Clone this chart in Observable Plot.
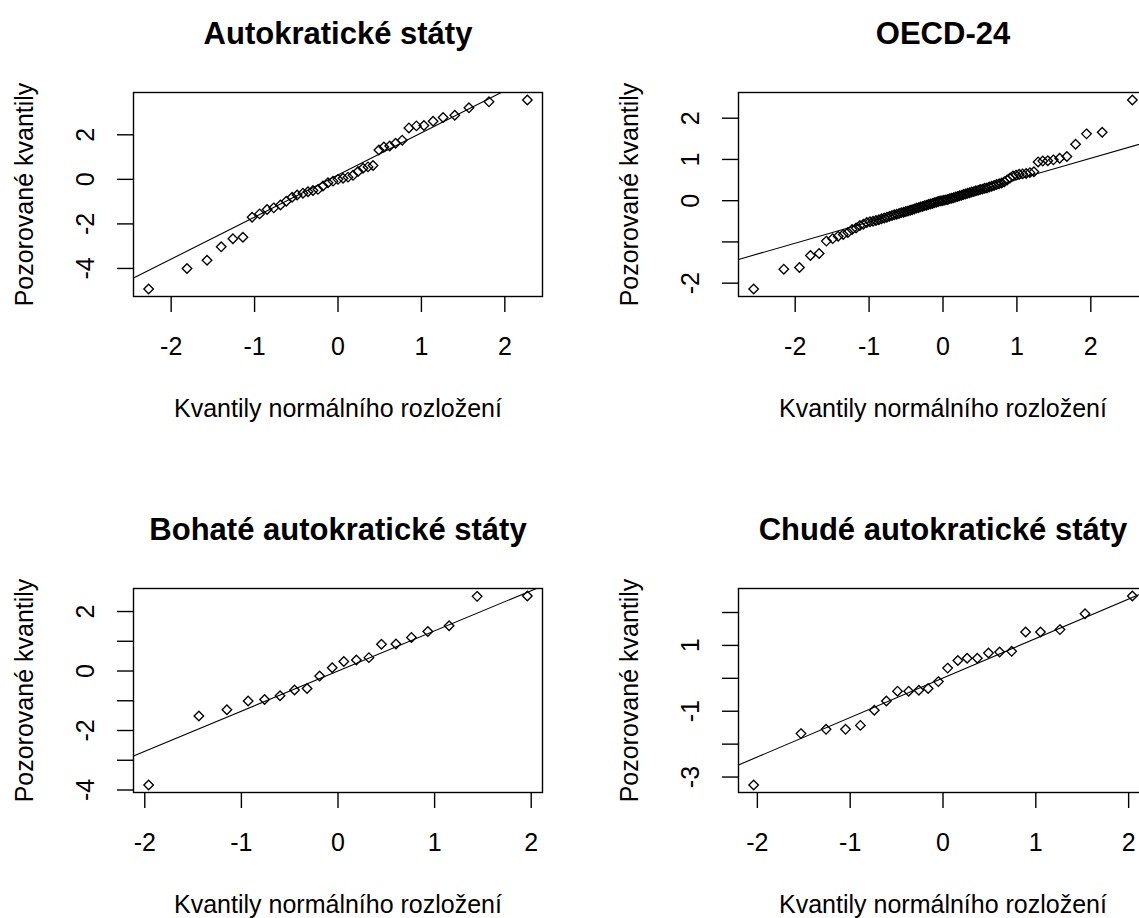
<!DOCTYPE html>
<html><head><meta charset="utf-8">
<script src="https://cdn.jsdelivr.net/npm/d3@7"></script>
<script src="https://cdn.jsdelivr.net/npm/@observablehq/plot@0.6"></script>
<style>
html,body{margin:0;padding:0;background:#fff;overflow:hidden;}
#wrap{position:relative;width:1139px;height:918px;overflow:hidden;background:#fff;}
.panel{position:absolute;width:605px;height:496px;}
</style></head><body><div id="wrap"></div>
<script>
// ---- data ----
const titles = ["Autokratické státy", "OECD-24", "Bohaté autokratické státy", "Chudé autokratické státy"];
const xLabel = "Kvantily normálního rozložení";
const yLabel = "Pozorované kvantily";
const xTicks = [-2, -1, 0, 1, 2];

const autoX = [-2.27,-1.81,-1.57,-1.40,-1.26,-1.14,-1.03,-0.94,-0.85,-0.77,-0.69,-0.62,-0.55,-0.49,-0.42,-0.36,-0.30,-0.24,-0.18,-0.12,-0.06,0,
  0.06,0.12,0.18,0.24,0.30,0.36,0.42,0.49,0.55,0.62,0.69,0.77,0.85,0.94,1.03,1.14,1.26,1.40,1.57,1.81,2.27];
const autoY = [-4.92,-4.00,-3.63,-3.03,-2.67,-2.60,-1.70,-1.55,-1.35,-1.28,-1.15,-0.98,-0.80,-0.70,-0.62,-0.56,-0.50,-0.45,-0.30,-0.15,-0.08,0.00,
  0.05,0.10,0.18,0.35,0.50,0.56,0.62,1.32,1.45,1.50,1.62,1.76,2.31,2.40,2.42,2.61,2.78,2.88,3.21,3.48,3.56];
const autoTicks = [-4, -2, 0, 2];
const autoLabels = [-4, -2, 0, 2];

const oecdX = [-2.562,-2.154,-1.942,-1.794,-1.676,-1.578,-1.493,-1.418,-1.350,-1.287,-1.230,-1.176,-1.125,-1.077,-1.031,-0.988,
  -0.947,-0.907,-0.868,-0.831,-0.794,-0.759,-0.725,-0.691,-0.658,-0.626,-0.594,-0.563,-0.533,-0.503,-0.474,-0.445,
  -0.417,-0.388,-0.360,-0.332,-0.305,-0.277,-0.250,-0.223,-0.197,-0.171,-0.144,-0.118,-0.092,-0.065,-0.039,-0.013,
  0.013,0.039,0.065,0.092,0.118,0.144,0.171,0.197,0.223,0.250,0.277,0.305,0.332,0.360,0.388,0.417,
  0.445,0.474,0.503,0.533,0.563,0.594,0.626,0.658,0.691,0.725,0.759,0.794,0.831,0.868,0.907,0.947,
  0.988,1.031,1.077,1.125,1.176,1.230,1.287,1.350,1.418,1.493,1.578,1.676,1.794,1.942,2.154,2.562];
const oecdY = [-2.14,-1.66,-1.62,-1.33,-1.28,-0.98,-0.92,-0.86,-0.82,-0.77,-0.70,-0.66,-0.60,-0.57,-0.53,-0.51,
  -0.50,-0.48,-0.46,-0.44,-0.42,-0.40,-0.38,-0.36,-0.34,-0.33,-0.31,-0.29,-0.28,-0.26,-0.25,-0.23,
  -0.22,-0.20,-0.18,-0.17,-0.15,-0.14,-0.12,-0.11,-0.09,-0.08,-0.07,-0.05,-0.04,-0.02,-0.01,0.00,
  0.01,0.02,0.03,0.05,0.06,0.07,0.09,0.10,0.12,0.13,0.15,0.16,0.18,0.19,0.21,0.22,
  0.24,0.25,0.27,0.28,0.30,0.31,0.33,0.35,0.37,0.39,0.41,0.43,0.46,0.50,0.55,0.60,
  0.62,0.64,0.65,0.66,0.68,0.70,0.94,0.96,0.97,0.99,1.03,1.07,1.37,1.62,1.66,2.44];
const oecdTicks = [-2, -1, 0, 1, 2];
const oecdLabels = [-2, 0, 1, 2];

const richX = [-1.96,-1.44,-1.15,-0.93,-0.76,-0.60,-0.45,-0.32,-0.19,-0.06,0.06,0.19,0.32,0.45,0.60,0.76,0.93,1.15,1.44,1.96];
const richY = [-3.83,-1.51,-1.30,-1.01,-0.96,-0.83,-0.64,-0.59,-0.17,0.11,0.32,0.37,0.45,0.90,0.91,1.13,1.33,1.52,2.51,2.52];
const richTicks = [-4, -3, -2, -1, 0, 1, 2];
const richLabels = [-4, -2, 0, 2];

const poorX = [-2.04,-1.53,-1.26,-1.05,-0.89,-0.74,-0.61,-0.49,-0.37,-0.26,-0.16,-0.05,0.05,0.16,0.26,0.37,0.49,0.61,0.74,0.89,1.05,1.26,1.53,2.04];
const poorY = [-3.24,-1.68,-1.55,-1.55,-1.43,-0.97,-0.69,-0.39,-0.39,-0.36,-0.31,-0.10,0.31,0.54,0.61,0.61,0.77,0.80,0.82,1.41,1.41,1.48,1.96,2.50];
const poorTicks = [-3, -2, -1, 0, 1, 2];
const poorLabels = [-3, -1, 1];

// qqline intercept / slope
const lineIntercepts = [0.20, 0.00, 0.00, 0.01];
const lineSlopes = [1.89, 0.515, 1.35, 1.20];

// ---- drawing ----
const FONT = "'Liberation Sans', Arial, sans-serif";
const panels = [
  {title: titles[0], x: autoX, y: autoY, ticks: autoTicks, labels: autoLabels, a: lineIntercepts[0], b: lineSlopes[0], left: 0, top: 0},
  {title: titles[1], x: oecdX, y: oecdY, ticks: oecdTicks, labels: oecdLabels, a: lineIntercepts[1], b: lineSlopes[1], left: 605, top: 0},
  {title: titles[2], x: richX, y: richY, ticks: richTicks, labels: richLabels, a: lineIntercepts[2], b: lineSlopes[2], left: 0, top: 496},
  {title: titles[3], x: poorX, y: poorY, ticks: poorTicks, labels: poorLabels, a: lineIntercepts[3], b: lineSlopes[3], left: 605, top: 496}
];

function padded(arr) {
  const [lo, hi] = d3.extent(arr);
  const r = hi - lo;
  return [lo - 0.04 * r, hi + 0.04 * r];
}

const wrap = document.getElementById("wrap");
for (const p of panels) {
  const xd = padded(p.x), yd = padded(p.y);
  const data = p.x.map((x, i) => ({x, y: p.y[i]}));
  const chart = Plot.plot({
    width: 605, height: 496,
    marginLeft: 133, marginRight: 63, marginTop: 92, marginBottom: 200,
    style: {fontFamily: FONT, fontSize: "25px", color: "black", background: "white", overflow: "visible"},
    x: {domain: xd, label: null},
    y: {domain: yd, label: null},
    marks: [
      Plot.line(xd, {x: d => d, y: d => p.a + p.b * d, stroke: "black", strokeWidth: 1.1, clip: true}),
      Plot.dot(data, {x: "x", y: "y", symbol: "diamond2", r: 4.3, stroke: "black", strokeWidth: 1.35}),
      Plot.frame({stroke: "black", strokeWidth: 1.4}),
      Plot.axisX(xTicks, {tickSize: 16, tickPadding: 25, tickFormat: d => String(d), strokeWidth: 1.4, label: null}),
      Plot.axisY(p.ticks, {tickSize: 16, tickPadding: 24, tickRotate: -90, tickFormat: d => p.labels.includes(d) ? String(d) : "", strokeWidth: 1.4, label: null}),
      Plot.text([p.title], {text: d => d, frameAnchor: "top", dy: -49, lineAnchor: "bottom", textAnchor: "middle", fontSize: 31, fontWeight: "bold"}),
      Plot.text([xLabel], {text: d => d, frameAnchor: "bottom", dy: 120, lineAnchor: "bottom", textAnchor: "middle"}),
      Plot.text([yLabel], {text: d => d, frameAnchor: "left", dx: -100.5, rotate: -90, lineAnchor: "bottom", textAnchor: "middle"})
    ]
  });
  const div = document.createElement("div");
  div.className = "panel";
  div.style.left = p.left + "px";
  div.style.top = p.top + "px";
  div.appendChild(chart);
  wrap.appendChild(div);
}
</script></body></html>
